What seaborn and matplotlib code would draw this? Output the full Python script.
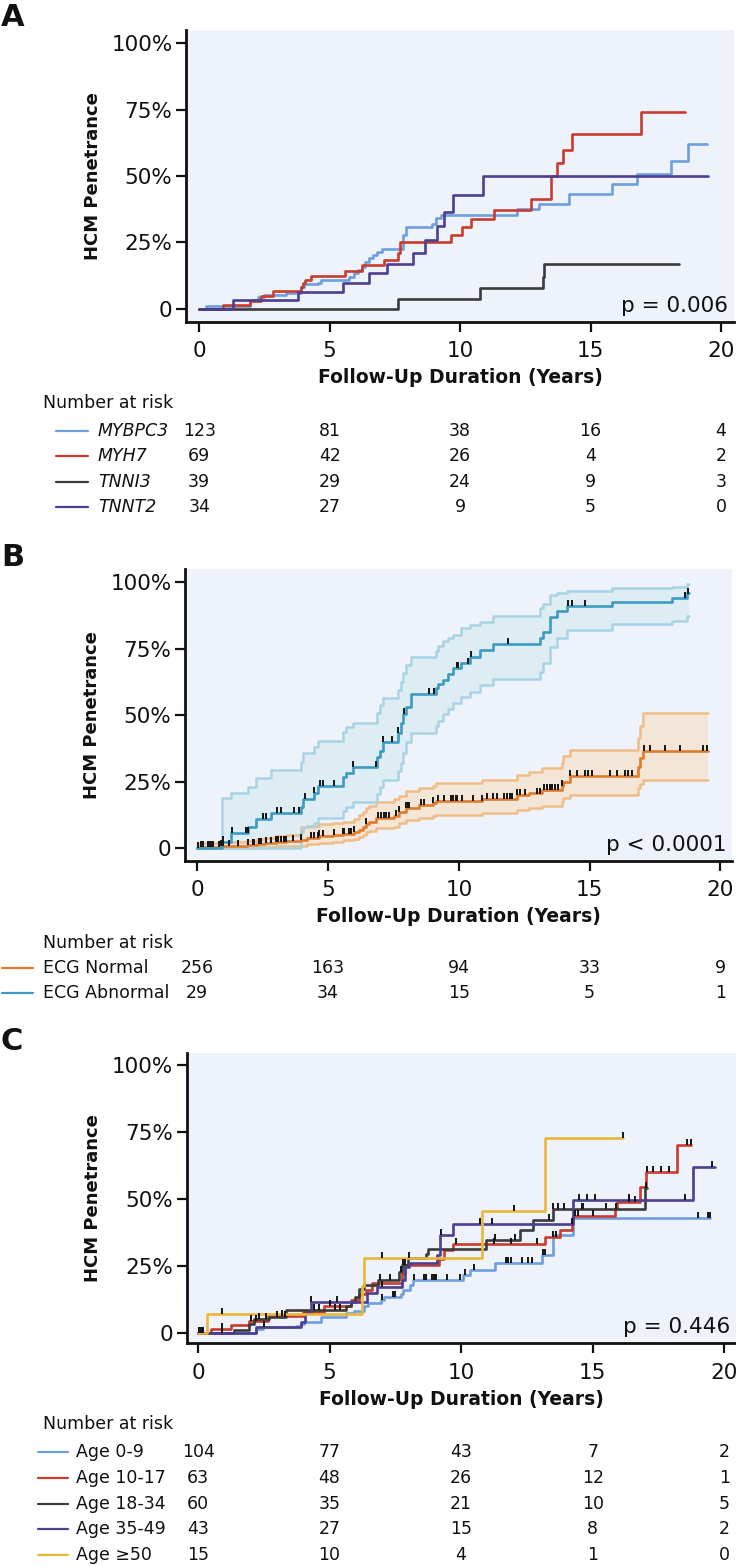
import numpy as np
import pandas as pd
import matplotlib
matplotlib.use("Agg")
import matplotlib.pyplot as plt
import seaborn as sns
from matplotlib.transforms import blended_transform_factory

# ---------------- DATA ----------------
x_ticks = [0, 5, 10, 15, 20]
y_ticks = [0, 25, 50, 75, 100]
y_ticklabels = ["0", "25%", "50%", "75%", "100%"]

# Panel A: genes (step change times, values after step, end time)
a_groups = ["MYBPC3", "MYH7", "TNNI3", "TNNT2"]
a_colors = ["#6e9edc", "#c93c2e", "#3b3b3b", "#4e3e8f"]
a_mybpc3_t = [0, 0.27, 1.93, 2.24, 2.50, 3.33, 3.90, 4.03, 4.54, 4.67, 5.76, 5.95, 6.08, 6.24, 6.37, 6.50,
              6.65, 6.80, 7.00, 7.82, 7.93, 8.92, 9.08, 9.27, 12.19, 13.04, 14.17, 15.83, 16.79, 18.10, 18.72]
a_mybpc3_v = [0, 1.0, 3.4, 4.4, 5.1, 5.9, 8.4, 9.3, 9.9, 10.9, 11.9, 13.6, 14.6, 15.9, 17.8, 19.0,
              20.3, 21.5, 22.4, 27.8, 30.7, 31.9, 34.1, 35.3, 37.6, 39.5, 43.1, 46.9, 50.6, 55.6, 62.0]
a_mybpc3_end = 19.45
a_myh7_t = [0, 0.90, 1.93, 2.35, 2.84, 3.90, 3.98, 4.07, 4.30, 5.60, 6.25, 7.09, 7.60, 7.68, 9.65,
            10.09, 10.40, 11.31, 12.72, 13.48, 13.70, 13.93, 14.28, 16.93]
a_myh7_v = [0, 1.4, 3.1, 4.9, 6.8, 8.4, 9.9, 10.9, 12.4, 14.3, 16.5, 18.4, 20.9, 25.3, 27.8,
            30.9, 33.7, 37.2, 41.3, 50.0, 54.9, 59.7, 65.8, 74.1]
a_myh7_end = 18.62
a_tnni3_t = [0, 7.62, 10.76, 13.16, 13.21]
a_tnni3_v = [0, 3.8, 7.8, 12.2, 16.9]
a_tnni3_end = 18.40
a_tnnt2_t = [0, 1.28, 3.77, 5.52, 6.50, 7.20, 8.19, 8.67, 9.10, 9.40, 9.72, 10.87]
a_tnnt2_v = [0, 3.2, 6.2, 9.7, 13.4, 16.9, 21.2, 25.8, 31.2, 36.6, 42.9, 50.0]
a_tnnt2_end = 19.50
a_risk = [[123, 81, 38, 16, 4], [69, 42, 26, 4, 2], [39, 29, 24, 9, 3], [34, 27, 9, 5, 0]]
a_p = "p = 0.006"

# Panel B: ECG
b_groups = ["ECG Normal", "ECG Abnormal"]
b_colors = ["#e07b2b", "#3c9bc0"]
b_fill = ["#f6e2cc", "#d9eaf2"]
b_edge = ["#efbd88", "#a8d3e4"]
b_norm_t = [0, 0.10, 0.90, 1.90, 2.30, 2.60, 3.00, 3.40, 3.97, 4.20, 4.67, 5.20, 5.56, 6.00, 6.20, 6.33, 6.45,
            6.55, 6.83, 7.53, 7.72, 7.98, 8.49, 9.00, 9.13, 10.90, 12.21, 12.68, 13.19, 13.93, 14.00, 14.25,
            16.84, 16.93, 17.02]
b_norm_v = [0, 0.4, 0.8, 1.1, 1.5, 2.0, 2.3, 2.6, 3.2, 3.8, 4.5, 5.0, 5.5, 6.2, 7.0, 8.1, 9.2,
            10.0, 11.3, 12.1, 13.8, 15.0, 16.3, 17.2, 17.9, 18.5, 20.0, 20.6, 21.9, 23.5, 25.0, 27.2,
            30.6, 33.8, 36.6]
b_norm_hi = [0, 2.0, 2.4, 2.8, 3.3, 4.0, 4.5, 5.0, 8.0, 8.5, 9.0, 9.5, 10.0, 11.0, 12.5, 13.8, 15.0,
             16.0, 17.5, 18.5, 19.6, 21.5, 22.7, 23.5, 24.4, 25.7, 27.5, 28.8, 30.0, 32.0, 34.5, 37.0,
             41.3, 46.0, 50.7]
b_norm_lo = [0, 0.0, 0.1, 0.2, 0.4, 0.6, 0.8, 1.0, 1.0, 1.5, 2.0, 2.5, 3.0, 3.5, 4.1, 5.0, 6.0,
             6.5, 7.5, 8.1, 9.5, 10.6, 11.5, 12.3, 12.5, 13.1, 14.4, 15.0, 16.0, 17.5, 18.8, 20.0,
             22.5, 24.0, 25.7]
b_norm_end = 19.52
b_norm_cens = [0.02, 0.15, 0.21, 0.40, 0.46, 0.53, 0.59, 0.85, 0.91, 0.97, 1.23, 1.55, 1.93, 2.12, 2.18,
               2.38, 2.44, 2.63, 2.82, 3.01, 3.08, 3.20, 3.33, 3.39, 3.65, 3.97, 4.35, 4.48, 4.60, 4.67,
               4.79, 5.24, 5.56, 5.63, 5.82, 5.88, 6.01, 6.45, 6.90, 7.03, 7.15, 7.22, 7.34, 7.60, 7.73,
               7.98, 8.05, 8.11, 8.56, 8.68, 9.00, 9.19, 9.45, 9.70, 9.77, 9.89, 9.92, 10.11, 10.56, 10.87,
               11.07, 11.32, 11.45, 11.71, 11.83, 11.96, 12.02, 12.21, 12.34, 12.53, 12.98, 13.10, 13.27,
               13.36, 13.48, 13.55, 13.68, 13.80, 13.93, 14.25, 14.50, 14.82, 14.95, 15.08, 15.78, 16.04,
               16.35, 16.48, 16.61, 17.06, 17.31, 17.88, 18.46, 19.35, 19.48]
b_abn_t = [0, 0.95, 1.29, 1.95, 2.25, 2.82, 3.97, 4.06, 4.48, 4.60, 5.56, 5.69, 5.94, 6.86, 6.99, 7.09,
           7.66, 7.79, 7.88, 8.00, 8.17, 9.13, 9.22, 9.41, 9.60, 9.77, 10.08, 10.42, 10.81, 11.32, 13.10,
           13.23, 13.49, 13.74, 14.13, 15.87, 18.14, 18.71]
b_abn_v = [0, 2.5, 5.6, 8.1, 10.9, 13.1, 15.4, 18.4, 20.7, 23.4, 26.7, 28.2, 30.4, 34.2, 36.7, 40.1,
           43.2, 47.0, 50.5, 53.2, 58.0, 60.1, 61.8, 63.3, 65.5, 67.7, 69.5, 72.0, 74.5, 76.7, 78.9,
           81.5, 87.1, 89.2, 91.1, 92.7, 94.0, 95.8]
b_abn_hi = [0, 18.8, 20.7, 23.2, 26.3, 29.4, 32.6, 35.9, 38.2, 40.5, 43.8, 45.5, 47.0, 51.0, 53.9, 56.4,
            59.5, 62.6, 66.0, 69.0, 72.0, 74.0, 76.0, 78.0, 79.0, 80.2, 82.7, 84.0, 85.2, 87.3, 90.2,
            92.0, 95.2, 96.0, 96.7, 97.7, 98.4, 99.2]
b_abn_lo = [0, 0, 0, 0, 0, 0, 6.0, 8.0, 9.5, 11.5, 14.0, 15.5, 17.5, 20.5, 23.0, 25.5,
            29.0, 32.0, 36.0, 40.0, 43.5, 46.0, 48.0, 50.5, 52.5, 54.5, 57.0, 58.9, 61.4, 63.6, 66.4,
            69.6, 75.8, 79.0, 82.0, 84.5, 85.5, 87.5]
b_abn_end = 18.80
b_abn_cens = [0.97, 1.32, 1.87, 1.93, 2.50, 2.63, 3.04, 3.20, 3.71, 3.90, 4.13, 4.48, 4.70, 4.79, 5.24,
              5.97, 6.83, 7.09, 7.45, 7.66, 7.92, 8.85, 9.07, 9.92, 9.98, 10.34, 10.47, 11.87, 14.16,
              14.31, 14.82, 18.65, 18.75]
b_risk = [[256, 163, 94, 33, 9], [29, 34, 15, 5, 1]]
b_p = "p < 0.0001"

# Panel C: age groups
c_groups = ["Age 0-9", "Age 10-17", "Age 18-34", "Age 35-49", "Age \u226550"]
c_colors = ["#6e9edc", "#c93c2e", "#3b3b3b", "#4e3e8f", "#eab738"]
c_a09_t = [0, 2.20, 2.45, 3.72, 3.91, 4.04, 4.67, 5.62, 5.94, 6.32, 6.45, 6.96, 7.08, 7.72, 7.78, 8.06, 8.16,
           10.08, 10.33, 11.28, 13.08, 13.48, 14.26]
c_a09_v = [0, 1.3, 2.0, 2.5, 3.2, 4.1, 6.0, 7.2, 8.2, 10.0, 11.0, 12.2, 13.4, 14.5, 16.0, 17.8, 19.7,
           21.6, 23.5, 26.2, 29.0, 36.5, 42.7]
c_a09_end = 19.46
c_a09_cens = [0.15, 7.00, 7.40, 7.50, 8.20, 8.60, 8.65, 8.90, 8.95, 9.00, 9.05, 9.45, 9.95, 10.14, 10.50,
              11.70, 11.75, 11.80, 11.90, 12.30, 12.55, 12.70, 13.10, 13.20, 19.00, 19.40, 19.46]
c_a1017_t = [0, 0.49, 1.25, 1.95, 2.64, 3.97, 4.80, 5.81, 6.13, 6.38, 6.60, 7.75, 7.85, 9.15, 9.35, 9.70,
             13.20, 13.75, 14.20, 14.26, 15.85, 15.91, 16.80, 17.03, 18.20]
c_a1017_v = [0, 1.3, 2.9, 4.5, 6.2, 7.9, 10.0, 12.2, 14.5, 16.0, 18.5, 22.0, 25.3, 27.5, 31.0, 33.1,
             35.9, 38.4, 42.1, 43.6, 46.4, 48.9, 54.6, 60.2, 70.2]
c_a1017_end = 18.74
c_a1017_cens = [0.10, 0.90, 2.00, 2.20, 3.20, 5.00, 9.80, 11.26, 11.90, 12.90, 13.50, 13.60, 14.33, 14.45,
                15.00, 15.90, 16.40, 16.60, 17.06, 17.30, 17.60, 17.90, 18.60, 18.74]
c_a1834_t = [0, 1.38, 1.95, 2.14, 2.70, 3.34, 5.62, 5.81, 5.97, 6.13, 6.32, 6.83, 7.64, 7.75, 7.97, 8.67,
             8.73, 10.93, 12.24, 12.74, 13.50, 17.00]
c_a1834_v = [0, 0.9, 3.3, 5.0, 5.8, 8.5, 10.0, 11.6, 13.2, 16.2, 17.8, 19.7, 22.8, 25.3, 27.8, 29.4,
             31.3, 34.6, 38.4, 42.1, 46.2, 54.0]
c_a1834_end = 17.05
c_a1834_cens = [0.05, 0.20, 0.90, 2.30, 2.60, 3.00, 3.30, 4.40, 4.60, 5.20, 5.40, 6.90, 7.30, 7.70, 7.80,
                7.85, 8.00, 11.29, 12.05, 13.35, 13.50, 13.70, 13.90, 14.60, 14.65, 15.50, 17.03]
c_a3549_t = [0, 2.20, 3.90, 4.05, 4.30, 6.42, 6.80, 7.75, 7.88, 8.00, 9.10, 9.20, 9.70, 14.26, 18.83]
c_a3549_v = [0, 2.3, 4.0, 7.5, 11.4, 14.9, 17.2, 19.7, 24.6, 25.9, 29.0, 36.4, 40.6, 49.6, 62.1]
c_a3549_end = 19.64
c_a3549_cens = [2.50, 4.30, 5.30, 7.00, 9.24, 10.70, 11.17, 14.20, 14.50, 14.80, 15.10, 16.40, 18.50, 19.54]
c_a50_t = [0, 0.32, 6.23, 6.30, 10.80, 13.20]
c_a50_v = [0, 7.0, 17.4, 27.8, 45.6, 72.7]
c_a50_end = 16.14
c_a50_cens = [0.90, 7.00, 12.00, 16.14]
c_risk = [[104, 77, 43, 7, 2], [63, 48, 26, 12, 1], [60, 35, 21, 10, 5], [43, 27, 15, 8, 2], [15, 10, 4, 1, 0]]
c_p = "p = 0.446"

# ---------------- STYLE ----------------
W, H = 736, 1566
sns.set_theme(style="white")
plt.rcParams["font.family"] = ["DejaVu Sans"]
BG = "#eef2fa"
INK = "#111111"

fig = plt.figure(figsize=(W / 100, H / 100), dpi=100)


def fy(ypx):
    return 1 - ypx / H


def fx(xpx):
    return xpx / W


def step_df(t, v, end, name):
    xs = list(t) + [end]
    ys = list(v) + [v[-1]]
    return pd.DataFrame({"t": xs, "p": ys, "g": name})


def val_at(t, v, c):
    idx = np.searchsorted(np.asarray(t), np.asarray(c), side="right") - 1
    return np.asarray(v)[idx]


def setup_axes(rect, xlim, ylim):
    ax = fig.add_axes(rect)
    ax.set_facecolor(BG)
    ax.set_xlim(*xlim)
    ax.set_ylim(*ylim)
    for s in ["top", "right"]:
        ax.spines[s].set_visible(False)
    for s in ["left", "bottom"]:
        ax.spines[s].set_color(INK)
        ax.spines[s].set_linewidth(2.0)
    ax.set_xticks(x_ticks)
    ax.set_xticklabels([str(x) for x in x_ticks])
    ax.set_yticks(y_ticks)
    ax.set_yticklabels(y_ticklabels)
    ax.tick_params(axis="both", direction="out", length=7, width=1.6, color=INK,
                   labelsize=15.5, labelcolor=INK, left=True, bottom=True)
    ax.tick_params(axis="y", pad=3)
    ax.tick_params(axis="x", pad=7)
    return ax


def set_labels(ax):
    ax.set_ylabel("HCM Penetrance", fontweight="bold", fontsize=13, color=INK, labelpad=7)
    ax.set_xlabel("Follow-Up Duration (Years)", fontweight="bold", fontsize=13.5, color=INK, labelpad=5)


def draw_curves(ax, dfs, colors, lw=1.9):
    df = pd.concat(dfs, ignore_index=True)
    names = [d["g"].iloc[0] for d in dfs]
    sns.lineplot(data=df, x="t", y="p", hue="g", hue_order=names, palette=colors,
                 drawstyle="steps-post", estimator=None, sort=False, legend=False,
                 linewidth=lw, ax=ax)


def draw_cens(ax, t, v, cens):
    cy = val_at(t, v, cens)
    ax.plot(cens, cy + 1.1, linestyle="none", marker="|", color="#151515", ms=5, mew=1.4, zorder=5)


def draw_table(ax, header_y, rows_y, labels, colors, counts, line_x, label_x, italic=False):
    fig.text(fx(43), fy(header_y), "Number at risk", fontsize=12.5, va="center", ha="left", color=INK)
    tr = blended_transform_factory(ax.transData, fig.transFigure)
    for ry, lab, col, cnt in zip(rows_y, labels, colors, counts):
        fig.add_artist(plt.Line2D([fx(line_x[0]), fx(line_x[1])], [fy(ry), fy(ry)],
                                  color=col, lw=1.6, transform=fig.transFigure))
        fig.text(fx(label_x), fy(ry), lab, fontsize=12.5, va="center", ha="left",
                 style="italic" if italic else "normal", color=INK)
        for xv, n in zip(x_ticks, cnt):
            fig.text(xv, fy(ry), str(n), transform=tr, fontsize=12.5, va="center", ha="center", color=INK)


def panel_letter(y, s):
    fig.text(fx(1), fy(y), s, fontsize=22, fontweight="bold", va="center", ha="left", color=INK)


# ---------------- PANEL A ----------------
axA = setup_axes([fx(186.4), fy(322), fx(733.6) - fx(186.4), (322 - 30) / H], (-0.49, 20.48), (-4.9, 104.9))
dfsA = [step_df(a_mybpc3_t, a_mybpc3_v, a_mybpc3_end, a_groups[0]),
        step_df(a_myh7_t, a_myh7_v, a_myh7_end, a_groups[1]),
        step_df(a_tnni3_t, a_tnni3_v, a_tnni3_end, a_groups[2]),
        step_df(a_tnnt2_t, a_tnnt2_v, a_tnnt2_end, a_groups[3])]
draw_curves(axA, dfsA, a_colors)
axA.text(0.99, 0.055, a_p, transform=axA.transAxes, ha="right", va="center", fontsize=15.5, color=INK)
panel_letter(18, "A")
draw_table(axA, 403, [431, 456, 482, 507], a_groups, a_colors, a_risk, (56, 88), 98, italic=True)

# ---------------- PANEL B ----------------
axB = setup_axes([fx(185.4), fy(861), fx(732) - fx(185.4), (861 - 569.3) / H], (-0.45, 20.44), (-4.8, 104.9))
for t, lo, hi, end, fc, ec in [(b_norm_t, b_norm_lo, b_norm_hi, b_norm_end, b_fill[0], b_edge[0]),
                               (b_abn_t, b_abn_lo, b_abn_hi, b_abn_end, b_fill[1], b_edge[1])]:
    tt = list(t) + [end]
    lo2 = list(lo) + [lo[-1]]
    hi2 = list(hi) + [hi[-1]]
    axB.fill_between(tt, lo2, hi2, step="post", color=fc, alpha=0.75, lw=0)
    axB.step(tt, lo2, where="post", color=ec, lw=1.8)
    axB.step(tt, hi2, where="post", color=ec, lw=1.8)
dfsB = [step_df(b_norm_t, b_norm_v, b_norm_end, b_groups[0]),
        step_df(b_abn_t, b_abn_v, b_abn_end, b_groups[1])]
draw_curves(axB, dfsB, b_colors, lw=1.9)
draw_cens(axB, b_norm_t, b_norm_v, b_norm_cens)
draw_cens(axB, b_abn_t, b_abn_v, b_abn_cens)
axB.text(0.99, 0.055, b_p, transform=axB.transAxes, ha="right", va="center", fontsize=15.5, color=INK)
panel_letter(558, "B")
draw_table(axB, 943, [968, 993], b_groups, b_colors, b_risk, (2, 33), 43)

# ---------------- PANEL C ----------------
axC = setup_axes([fx(187.3), fy(1343.3), fx(736) - fx(187.3), (1343.3 - 1053.3) / H], (-0.41, 20.45), (-3.96, 104.4))
cdata = [(c_a09_t, c_a09_v, c_a09_end, c_a09_cens), (c_a1017_t, c_a1017_v, c_a1017_end, c_a1017_cens),
         (c_a1834_t, c_a1834_v, c_a1834_end, c_a1834_cens), (c_a3549_t, c_a3549_v, c_a3549_end, c_a3549_cens),
         (c_a50_t, c_a50_v, c_a50_end, c_a50_cens)]
dfsC = [step_df(t, v, e, g) for (t, v, e, _), g in zip(cdata, c_groups)]
draw_curves(axC, dfsC, c_colors)
for t, v, e, cz in cdata:
    draw_cens(axC, t, v, cz)
axC.text(0.99, 0.055, c_p, transform=axC.transAxes, ha="right", va="center", fontsize=15.5, color=INK)
panel_letter(1042, "C")
draw_table(axC, 1424, [1452, 1478, 1504, 1529, 1555], c_groups, c_colors, c_risk, (38, 68), 76)

for ax in (axA, axB, axC):
    set_labels(ax)

fig.savefig("out.png", dpi=100)
